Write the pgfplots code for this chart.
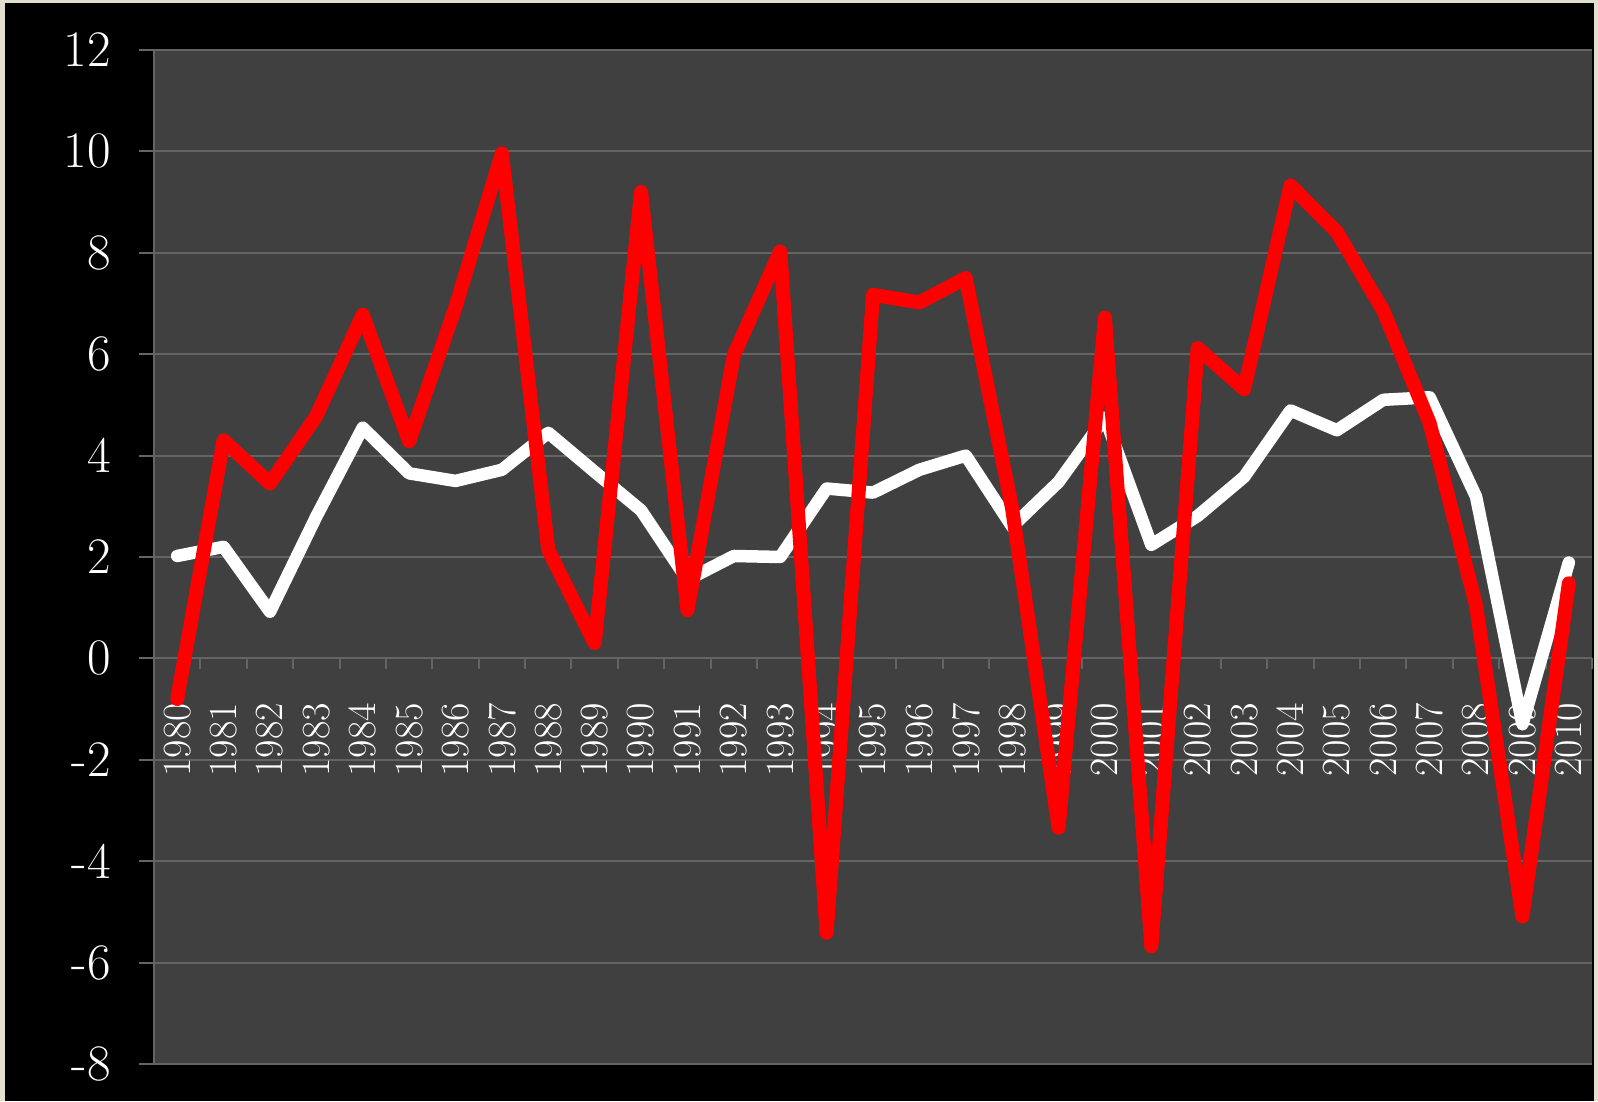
\documentclass[border=0pt]{standalone}
\usepackage{fontspec}
\usepackage{pgfplots}
\pgfplotsset{compat=1.18}

\definecolor{plotbg}{RGB}{64,64,64}
\definecolor{gridc}{RGB}{100,100,100}
\definecolor{framec}{RGB}{226,223,206}
\pagecolor{black}

% year index (0 = 1980), red series, white series
\pgfplotstableread{
idx red white
0  -0.80  2.02
1   4.30  2.20
2   3.45  0.92
3   4.78  2.80
4   6.78  4.55
5   4.28  3.65
6   6.93  3.50
7   9.96  3.72
8   2.14  4.45
9   0.30  3.68
10  9.20  2.92
11  0.95  1.55
12  5.98  2.02
13  8.03  2.00
14 -5.41  3.35
15  7.17  3.27
16  7.02  3.72
17  7.50  4.00
18  2.95  2.60
19 -3.34  3.48
20  6.72  4.75
21 -5.68  2.24
22  6.12  2.81
23  5.31  3.58
24  9.33  4.89
25  8.41  4.50
26  6.86  5.10
27  4.64  5.15
28  1.04  3.19
29 -5.09 -1.30
30  1.48  1.89
}\growth

\begin{document}
\begin{tikzpicture}
\begin{axis}[
    at={(0,0)}, anchor=south west,
    scale only axis,
    width=719pt, height=507pt,
    set layers,
    axis background/.style={fill=plotbg},
    xmin=-0.5, xmax=30.5,
    ymin=-8, ymax=12,
    axis x line=middle,
    axis y line=left,
    axis line style={gridc, line width=1pt, -},
    hide obscured x ticks=false,
    hide obscured y ticks=false,
    xtick={0,...,30},
    xticklabels={1980,1981,1982,1983,1984,1985,1986,1987,1988,1989,1990,
        1991,1992,1993,1994,1995,1996,1997,1998,1999,2000,
        2001,2002,2003,2004,2005,2006,2007,2008,2009,2010},
    minor xtick={-0.5,0.5,...,30.5},
    ytick={-8,-6,...,12},
    ymajorgrids,
    major grid style={gridc, line width=1pt},
    xtick align=center,
    ytick align=outside,
    major tick length=7.5pt,
    minor tick length=5.5pt,
    major x tick style={draw=none},
    minor x tick style={gridc, line width=1pt, yshift=-2.75pt},
    major y tick style={gridc, line width=1pt},
    /pgf/number format/assume math mode=true,
    yticklabel style={font=\fontsize{25.6}{30}\selectfont, text=white, xshift=-10.5pt},
    xticklabel style={font=\fontsize{20}{24}\selectfont, text=white, yshift=-15pt, rotate=90, anchor=east},
]
\addplot[white, line width=6.25pt, line join=round, line cap=round] table[x=idx, y=white] {\growth};
\addplot[red, line width=7pt, line join=round, line cap=round] table[x=idx, y=red] {\growth};
\end{axis}
\fill[framec] (-77pt,-18.5pt) rectangle (-74.5pt,532pt);
\fill[framec] (-77pt,530.5pt) rectangle (722pt,532pt);
\fill[framec] (720pt,-18.5pt) rectangle (722pt,532pt);
\path (-77pt,-18.5pt) rectangle (722pt,532pt);
\end{tikzpicture}
\end{document}
